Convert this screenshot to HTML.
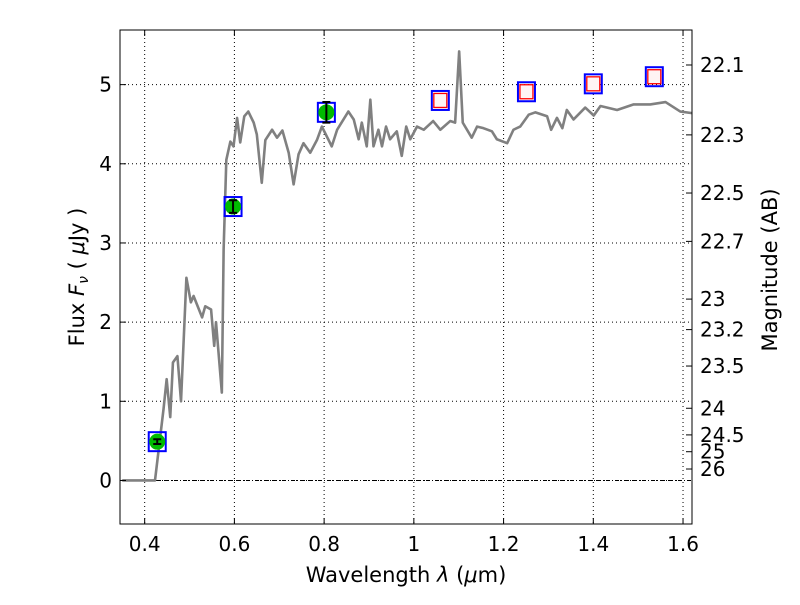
<!DOCTYPE html>
<html><head><meta charset="utf-8"><style>
body{margin:0;background:#fff}
svg text{font-family:"DejaVu Sans","Liberation Sans",sans-serif;fill:#000}
</style></head><body>
<svg id="c" width="800" height="600" viewBox="0 0 800 600"></svg>
<script>
const specWave=[0.35,0.423,0.442,0.449,0.457,0.463,0.473,0.481,0.493,0.503,0.509,0.528,0.535,0.548,0.555,0.559,0.572,0.576,0.582,0.591,0.598,0.606,0.613,0.622,0.631,0.643,0.650,0.661,0.669,0.684,0.695,0.707,0.721,0.732,0.743,0.754,0.769,0.784,0.795,0.817,0.829,0.854,0.866,0.877,0.884,0.895,0.903,0.910,0.921,0.929,0.938,0.947,0.962,0.973,0.983,0.992,1.007,1.022,1.043,1.059,1.081,1.092,1.101,1.109,1.129,1.141,1.155,1.174,1.185,1.208,1.222,1.237,1.256,1.271,1.297,1.306,1.319,1.331,1.341,1.356,1.382,1.401,1.416,1.453,1.490,1.527,1.561,1.594,1.62];
const specFlux=[0,0,0.9,1.28,0.8,1.49,1.57,1.0,2.56,2.25,2.33,2.06,2.2,2.16,1.7,2.0,1.11,2.92,4.05,4.28,4.22,4.58,4.27,4.6,4.66,4.52,4.37,3.76,4.3,4.43,4.33,4.42,4.14,3.74,4.12,4.26,4.14,4.3,4.47,4.22,4.43,4.66,4.56,4.31,4.52,4.22,4.81,4.22,4.43,4.22,4.47,4.31,4.41,4.1,4.47,4.31,4.47,4.43,4.54,4.43,4.54,4.52,5.42,4.52,4.33,4.47,4.45,4.41,4.31,4.26,4.43,4.47,4.62,4.65,4.6,4.43,4.58,4.45,4.68,4.56,4.71,4.61,4.73,4.68,4.75,4.75,4.78,4.66,4.64];
const obsWave=[0.428,0.597,0.805];
const obsFlux=[0.49,3.46,4.65];
const obsErr=[0.03,0.08,0.13];
const modWave=[0.428,0.597,0.805,1.059,1.251,1.40,1.536];
const modFlux=[0.49,3.46,4.65,4.8,4.91,5.01,5.1];
const ulWave=[1.059,1.251,1.40,1.536];
const ulFlux=[4.8,4.91,5.01,5.1];
const xTicks=[0.4,0.6,0.8,1.0,1.2,1.4,1.6];
const xTickLabels=["0.4","0.6","0.8","1","1.2","1.4","1.6"];
const yTicks=[0,1,2,3,4,5];
const magTicks=[22.1,22.3,22.5,22.7,23,23.2,23.5,24,24.5,25,26];

const L=120,R=692,T=30,B=524,X0=0.345,X1=1.62,Y0=-0.55,Y1=5.69;
const sx=v=>L+(v-X0)/(X1-X0)*(R-L);
const sy=v=>B-(v-Y0)/(Y1-Y0)*(B-T);
const svg=document.getElementById('c');
const NS='http://www.w3.org/2000/svg';
function mk(tag,at,parent){const e=document.createElementNS(NS,tag);for(const k in at)e.setAttribute(k,at[k]);(parent||svg).appendChild(e);return e;}

xTicks.forEach(v=>{const g=mk('line',{x1:sx(v),x2:sx(v),y1:T,y2:B,stroke:'#000','stroke-width':1,'stroke-dasharray':'1,3'});

});
yTicks.forEach(v=>{const g=mk('line',{x1:L,x2:R,y1:sy(v),y2:sy(v),stroke:'#000','stroke-width':1,'stroke-dasharray':'1,3'});

});
const z=mk('line',{x1:L,x2:R,y1:sy(0),y2:sy(0),stroke:'#000','stroke-width':1,'stroke-dasharray':'4,2,1,2'});



const sp=mk('polyline',{points:specWave.map((w,i)=>sx(w)+','+sy(specFlux[i])).join(' '),fill:'none',stroke:'#808080','stroke-width':2.6,'stroke-linejoin':'round'});



modWave.forEach((w,i)=>{const r=mk('rect',{x:sx(w)-8.5,y:sy(modFlux[i])-9.5,width:17,height:19,fill:'none',stroke:'#0000ff','stroke-width':2});

});
ulWave.forEach((w,i)=>{const r=mk('rect',{x:sx(w)-6.5,y:sy(ulFlux[i])-7,width:13,height:14,fill:'#fff4f4',stroke:'#ff0000','stroke-width':1.3});

});
obsWave.forEach((w,i)=>{const c=mk('circle',{cx:sx(w),cy:sy(obsFlux[i]),r:8,fill:'#00bb00'});


const x=sx(w),y1=sy(obsFlux[i]+obsErr[i]),y2=sy(obsFlux[i]-obsErr[i]);
const e=mk('path',{d:`M${x},${y1}V${y2}M${x-4},${y1}H${x+4}M${x-4},${y2}H${x+4}`,stroke:'#000','stroke-width':2,fill:'none'});

});

const fr=mk('rect',{x:L,y:T,width:R-L,height:B-T,fill:'none',stroke:'#000','stroke-width':1});



xTicks.forEach((v,i)=>{mk('path',{d:`M${sx(v)},${B}v-6M${sx(v)},${T}v6`,stroke:'#000'});
const t=mk('text',{x:sx(v),y:B+27,'text-anchor':'middle','font-size':20});t.textContent=xTickLabels[i];

});
yTicks.forEach(v=>{mk('path',{d:`M${L},${sy(v)}h6`,stroke:'#000'});
const t=mk('text',{x:L-8,y:sy(v)+7,'text-anchor':'end','font-size':20});t.textContent=v;

});
magTicks.forEach(m=>{const f=Math.pow(10,(23.9-m)/2.5);const y=sy(f);
mk('path',{d:`M${R},${y}h-6`,stroke:'#000'});
const t=mk('text',{x:R+8,y:y+7,'font-size':20});t.textContent=m;

});

const xt=mk('text',{x:406,y:582,'text-anchor':'middle','font-size':21});
xt.innerHTML='Wavelength  <tspan font-style="italic">λ</tspan> (<tspan font-style="italic">μ</tspan>m)';


const yt=mk('text',{transform:'translate(84,277) rotate(-90)','text-anchor':'middle','font-size':21});
yt.innerHTML='Flux  <tspan font-style="italic">F</tspan><tspan font-style="italic" font-size="14" dy="4">ν</tspan><tspan dy="-4">  ( </tspan><tspan font-style="italic">μ</tspan>Jy )';


const rt=mk('text',{transform:'translate(777,270) rotate(-90)','text-anchor':'middle','font-size':21});
rt.textContent='Magnitude (AB)';


</script>
</body></html>
